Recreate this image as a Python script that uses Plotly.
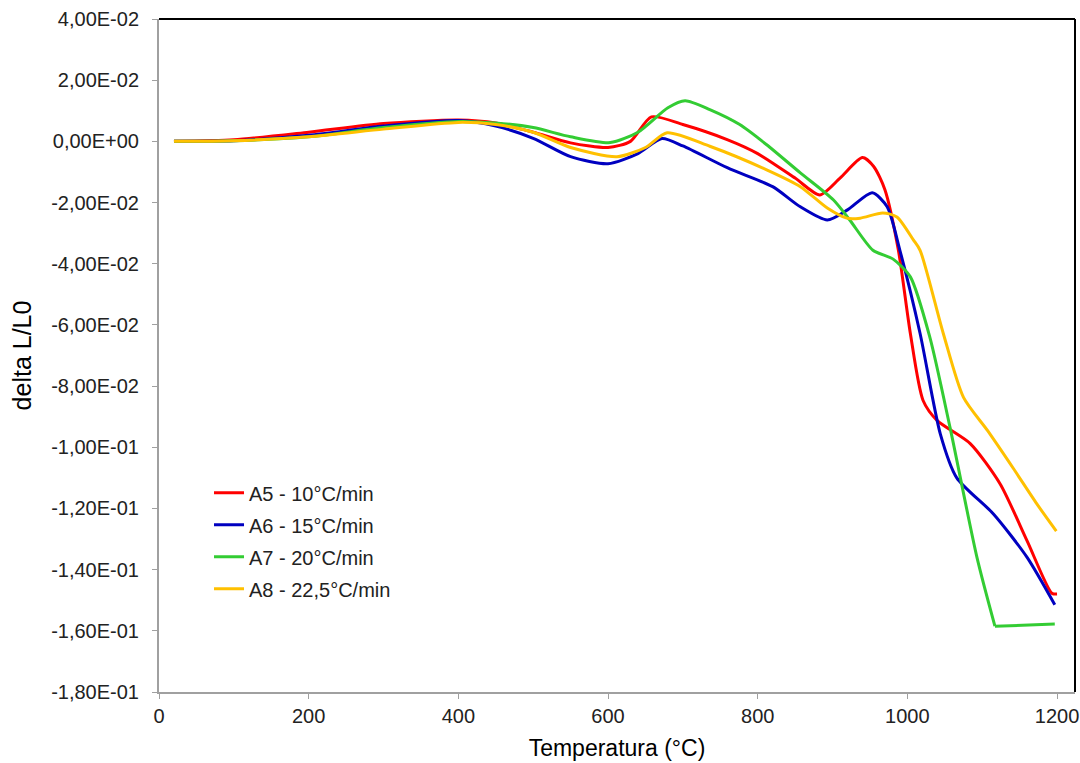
import plotly.graph_objects as go

# ---- data ----
a5_x = [20, 100, 200, 300, 400, 450, 500, 550, 600, 630, 658, 700, 760, 800, 850, 883, 910, 940, 955, 970, 988, 1004, 1021, 1040, 1084, 1124, 1160, 1193, 1200]
a5_y = [0, 0.0005, 0.003, 0.0058, 0.007, 0.006, 0.003, -0.0005, -0.002, 0.0, 0.008, 0.0055, 0.0005, -0.004, -0.012, -0.0175, -0.012, -0.0053, -0.0082, -0.0158, -0.0356, -0.0628, -0.0847, -0.0913, -0.0988, -0.112, -0.1306, -0.1477, -0.148]

a6_x = [20, 100, 200, 300, 400, 450, 500, 550, 600, 640, 672, 700, 760, 820, 857, 893, 920, 953, 973, 990, 1017, 1044, 1066, 1115, 1160, 1197]
a6_y = [0, 0.0002, 0.002, 0.005, 0.0068, 0.005, 0.001, -0.005, -0.0073, -0.004, 0.0009, -0.0015, -0.0087, -0.0148, -0.0214, -0.0257, -0.0224, -0.0168, -0.0214, -0.0356, -0.0628, -0.0956, -0.110, -0.1218, -0.136, -0.1515]

a7_x = [20, 100, 200, 300, 400, 450, 500, 550, 603, 640, 680, 703, 736, 776, 812, 857, 901, 923, 954, 981, 1004, 1030, 1057, 1093, 1117, 1197]
a7_y = [0, 0.0002, 0.0015, 0.0045, 0.0065, 0.006, 0.0045, 0.0015, -0.0004, 0.003, 0.011, 0.0133, 0.0104, 0.0055, -0.0011, -0.0103, -0.0191, -0.0257, -0.0356, -0.0385, -0.0443, -0.064, -0.0935, -0.136, -0.1585, -0.1578]

a8_x = [20, 100, 200, 300, 400, 450, 500, 550, 612, 650, 679, 736, 812, 857, 893, 919, 937, 967, 986, 1008, 1017, 1048, 1075, 1107, 1141, 1173, 1199]
a8_y = [0, 0.0002, 0.0015, 0.004, 0.0062, 0.0055, 0.003, -0.002, -0.005, -0.002, 0.0028, -0.0016, -0.0093, -0.0148, -0.0218, -0.0251, -0.0251, -0.0234, -0.0247, -0.0322, -0.0356, -0.0628, -0.0837, -0.0945, -0.1067, -0.1185, -0.1274]

series_names = ["A5 - 10°C/min", "A6 - 15°C/min", "A7 - 20°C/min", "A8 - 22,5°C/min"]
series_colors = ["#FF0000", "#0000C0", "#33CC33", "#FFC000"]

y_tickvals = [0.04, 0.02, 0.0, -0.02, -0.04, -0.06, -0.08, -0.10, -0.12, -0.14, -0.16, -0.18]
y_ticktext = ["4,00E-02", "2,00E-02", "0,00E+00", "-2,00E-02", "-4,00E-02", "-6,00E-02",
              "-8,00E-02", "-1,00E-01", "-1,20E-01", "-1,40E-01", "-1,60E-01", "-1,80E-01"]
x_tickvals = [0, 200, 400, 600, 800, 1000, 1200]

fig = go.Figure()
all_x = [a5_x, a6_x, a7_x, a8_x]
all_y = [a5_y, a6_y, a7_y, a8_y]
for i, (xs, ys, name, col) in enumerate(zip(all_x, all_y, series_names, series_colors)):
    if i == 2:
        # green: smooth part, then the straight final segment after the sharp minimum
        k = len(xs) - 2
        fig.add_trace(go.Scatter(x=xs[:k + 1], y=ys[:k + 1], name=name, mode="lines",
                                 legendgroup=f"g{i}",
                                 line=dict(color=col, width=3, shape="spline", smoothing=0.7)))
        fig.add_trace(go.Scatter(x=xs[k:], y=ys[k:], name=name, mode="lines",
                                 legendgroup=f"g{i}", showlegend=False,
                                 line=dict(color=col, width=3)))
    else:
        fig.add_trace(go.Scatter(x=xs, y=ys, name=name, mode="lines", legendgroup=f"g{i}",
                                 line=dict(color=col, width=3, shape="spline", smoothing=0.7)))

font_family = "Liberation Sans, Arial, sans-serif"
fig.update_layout(
    width=1080, height=763,
    margin=dict(l=159, r=5, t=19, b=71),
    paper_bgcolor="white", plot_bgcolor="white",
    font=dict(family=font_family, size=20, color="#222"),
    showlegend=True,
    legend=dict(x=0.0546, y=0.325, xanchor="left", yanchor="top",
                bgcolor="rgba(0,0,0,0)", font=dict(size=20, color="#222"),
                tracegroupgap=3),
    xaxis=dict(range=[0, 1224], tickvals=x_tickvals, showgrid=False, zeroline=False,
               automargin=False,
               showline=True, linecolor="#a0a0a0", linewidth=2,
               ticks="outside", ticklen=5, tickcolor="#a0a0a0",
               title=dict(text="Temperatura (°C)", font=dict(size=23, color="#000"), standoff=14)),
    yaxis=dict(range=[-0.18, 0.04], tickvals=y_tickvals, ticktext=y_ticktext,
               showgrid=False, zeroline=False, automargin=False,
               showline=True, linecolor="#a0a0a0", linewidth=2,
               ticks="outside", ticklen=5, tickcolor="#a0a0a0", ticklabelstandoff=9,
               title=dict(text="delta L/L0", font=dict(size=25, color="#000"), standoff=12)),
)
# black plot-area frame (top and right)
fig.add_shape(type="line", xref="paper", yref="paper", x0=0, x1=1, y0=1, y1=1,
              line=dict(color="black", width=2))
fig.add_shape(type="line", xref="paper", yref="paper", x0=1, x1=1, y0=0, y1=1,
              line=dict(color="black", width=2))

fig.write_html("out.html", config={"displayModeBar": False},
               post_script="document.body.style.margin='0';document.body.style.overflow='hidden';")
